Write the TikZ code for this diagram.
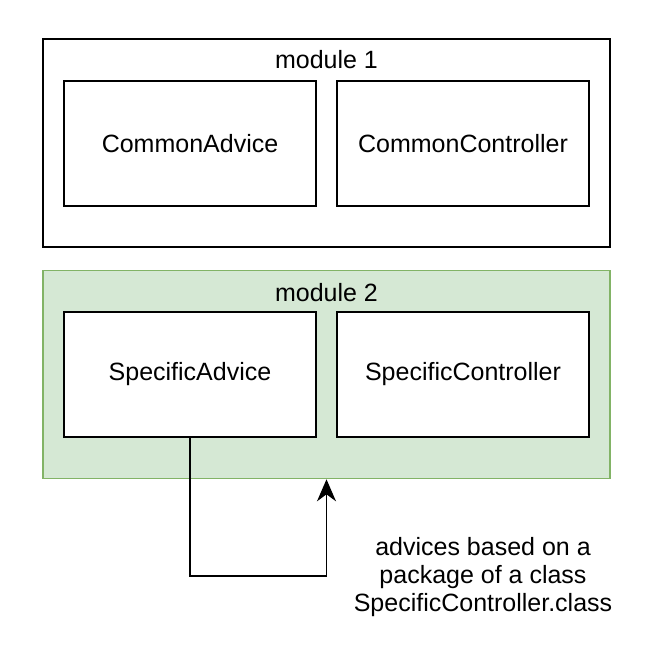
\documentclass[tikz,border=0pt]{standalone}
\usepackage{fontspec}
\setmainfont{Liberation Sans}
\usetikzlibrary{arrows.meta, positioning}
\definecolor{modgreen}{HTML}{D5E8D4}
\definecolor{modgreenline}{HTML}{82B366}
\tikzstyle{module} = [rectangle, minimum width=567pt, minimum height=208pt, draw=black, line width=1.6pt, inner sep=0pt]
\tikzstyle{classbox} = [rectangle, minimum width=252pt, minimum height=125pt, text centered, draw=black, fill=white, line width=1.6pt]
\tikzstyle{label} = [font=\fontsize{25}{28}\selectfont]
\tikzstyle{arrow} = [line width=1.6pt, -{Stealth[length=22pt, width=19pt, inset=7pt]}]

\begin{document}
\begin{tikzpicture}[x=1pt, y=-1pt, every node/.style={font=\fontsize{25}{28}\selectfont}]
\useasboundingbox (0,0) rectangle (648,652);

\node (mod1) [module] at (326.5,143) {};
\node (mod2) [module, fill=modgreen, draw=modgreenline] at (326.5,374.5) {};
\node (mod1title) [label] at (326.5,60) {module 1};
\node (mod2title) [label] at (326.5,293) {module 2};

\node (cadvice) [classbox] at (190,143.5) {CommonAdvice};
\node (ccontroller) [classbox] at (463,143.5) {CommonController};
\node (sadvice) [classbox] at (190,374.5) {SpecificAdvice};
\node (scontroller) [classbox] at (463,374.5) {SpecificController};

\draw [arrow] (sadvice.south) -- ++(0,138) -| (mod2.south);
\node (note) [label, align=center] at (483,577) {advices based on a\\package of a class\\SpecificController.class};

\end{tikzpicture}
\end{document}
